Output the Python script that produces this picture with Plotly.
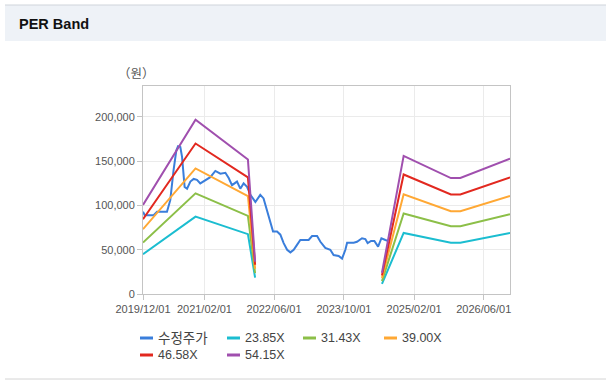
import plotly.graph_objects as go

# ---------------- data ----------------
price_dates = [
    "2019-12-01", "2019-12-13", "2020-02-13", "2020-03-08", "2020-05-16", "2020-06-08",
    "2020-07-01", "2020-07-20", "2020-08-01", "2020-08-17", "2020-08-29", "2020-09-16",
    "2020-10-03", "2020-10-26", "2020-11-18", "2020-12-11", "2021-01-03", "2021-02-07",
    "2021-03-14", "2021-04-18", "2021-05-23", "2021-06-27", "2021-07-20", "2021-08-12",
    "2021-09-16", "2021-10-09", "2021-11-01", "2021-11-25", "2021-12-18", "2022-01-22",
    "2022-02-25", "2022-03-20", "2022-04-13", "2022-05-06", "2022-05-25", "2022-06-22",
    "2022-07-15", "2022-08-07", "2022-08-31", "2022-09-23", "2022-10-16", "2022-11-08",
    "2022-12-01", "2023-01-28", "2023-02-21", "2023-03-28", "2023-04-20", "2023-05-24",
    "2023-06-28", "2023-07-21", "2023-08-25", "2023-09-18", "2023-10-11", "2023-10-23",
    "2023-12-08", "2023-12-31", "2024-02-04", "2024-02-27", "2024-03-14", "2024-04-07",
    "2024-04-30", "2024-05-26", "2024-06-18", "2024-07-16", "2024-08-01",
]
price_values = [
    93000, 89000, 89000, 93000, 93000, 106000,
    140000, 162000, 167000, 166000, 155000, 121000,
    119000, 127000, 130000, 129000, 125000, 129000,
    132000, 139000, 136000, 137000, 131000, 123000,
    127000, 119000, 125000, 121000, 112000, 104000,
    112000, 108000, 95000, 80000, 70500, 70500,
    67000, 57500, 50000, 47000, 50000, 55500,
    61000, 61000, 65500, 65500, 59000, 52000,
    50000, 44000, 43000, 40000, 50000, 58000,
    58000, 59000, 63000, 62000, 57500, 60000,
    60000, 53500, 63000, 61000, 60000,
]

band_dates = [
    "2019-12-01", "2020-12-01", "2021-12-01", "2022-01-20",
    "2023-03-01",
    "2024-06-22", "2024-11-20", "2025-10-15", "2025-12-20", "2026-12-01",
]
band_23_85 = [45000, 87400, 67600, 18500, None, 11500, 69000, 58000, 58000, 69000]
band_31_43 = [58100, 113700, 88200, 23500, None, 14500, 91000, 76500, 76500, 90000]
band_39_00 = [73200, 141900, 110700, 28500, None, 18000, 112700, 93500, 93500, 110700]
band_46_58 = [84500, 170000, 131800, 33000, None, 21000, 135000, 112500, 112500, 131800]
band_54_15 = [100600, 197000, 152000, 36500, None, 24000, 156000, 131000, 131000, 153000]

series_names = ["수정주가", "23.85X", "31.43X", "39.00X", "46.58X", "54.15X"]
series_colors = ["#3a7edb", "#1bbdd0", "#8cbf48", "#ffa834", "#e2281f", "#a04fae"]

x_tick_vals = ["2019-12-01", "2021-02-01", "2022-06-01", "2023-10-01", "2025-02-01", "2026-06-01"]
x_tick_text = ["2019/12/01", "2021/02/01", "2022/06/01", "2023/10/01", "2025/02/01", "2026/06/01"]
y_tick_vals = [0, 50000, 100000, 150000, 200000]

# ---------------- layout geometry (pixels) ----------------
W, H = 606, 385
PL, PR, PT, PB = 143, 96, 86, 91
PW = W - PL - PR
PH = H - PT - PB


def px(x):
    return (x - PL) / PW


def py(y):
    return (H - PB - y) / PH


fig = go.Figure()

fig.add_trace(go.Scatter(x=price_dates, y=price_values, mode="lines", name=series_names[0],
                         line=dict(color=series_colors[0], width=2)))
for name, color, vals in zip(series_names[1:], series_colors[1:],
                             [band_23_85, band_31_43, band_39_00, band_46_58, band_54_15]):
    fig.add_trace(go.Scatter(x=band_dates, y=vals, mode="lines", name=name,
                             connectgaps=False, line=dict(color=color, width=2)))

shapes = [
    # header band
    dict(type="rect", xref="paper", yref="paper", x0=px(5), x1=px(W + 2), y0=py(41), y1=py(5),
         fillcolor="#eef2f7", line=dict(width=0), layer="below"),
    dict(type="line", xref="paper", yref="paper", x0=px(5), x1=px(W + 2), y0=py(5), y1=py(5),
         line=dict(color="#cfd4db", width=1)),
    dict(type="line", xref="paper", yref="paper", x0=px(5), x1=px(W + 2), y0=py(379), y1=py(379),
         line=dict(color="#d4d4d4", width=1)),
]

annotations = [
    dict(text="<b>PER Band</b>", xref="paper", yref="paper", x=px(17), y=py(24),
         xanchor="left", yanchor="middle", showarrow=False,
         font=dict(size=14.5, color="#111111", family="Liberation Sans, Noto Sans CJK KR")),
    dict(text="（원）", xref="paper", yref="paper", x=px(136), y=py(72),
         xanchor="center", yanchor="middle", showarrow=False,
         font=dict(size=12.5, color="#555555", family="Noto Sans CJK KR")),
]

# custom legend (positions in pixels)
legend_pos = [(140, 338), (227, 338), (303, 338), (384, 338), (140, 355), (227, 355)]
for name, color, (lx, ly) in zip(series_names, series_colors, legend_pos):
    shapes.append(dict(type="line", xref="paper", yref="paper",
                       x0=px(lx), x1=px(lx + 13), y0=py(ly), y1=py(ly),
                       line=dict(color=color, width=3)))
    annotations.append(dict(text=name, xref="paper", yref="paper", x=px(lx + 16), y=py(ly),
                            xanchor="left", yanchor="middle", showarrow=False,
                            font=dict(size=13.5 if name == "수정주가" else 12.5, color="#444444",
                                      family="Liberation Sans, Noto Sans CJK KR")))

fig.update_layout(
    width=W, height=H,
    margin=dict(l=PL, r=PR, t=PT, b=PB, pad=0),
    paper_bgcolor="#ffffff", plot_bgcolor="#ffffff",
    showlegend=False,
    shapes=shapes, annotations=annotations,
    font=dict(family="Liberation Sans, Noto Sans CJK KR", size=11, color="#555555"),
)
fig.update_xaxes(type="date", range=["2019-12-01", "2026-12-01"],
                 tickvals=x_tick_vals, ticktext=x_tick_text,
                 showgrid=True, gridcolor="#ebebeb", gridwidth=1,
                 showline=True, linecolor="#c4c4c4", linewidth=1, mirror=True,
                 ticks="outside", ticklen=5, tickcolor="#c4c4c4",
                 tickfont=dict(size=11, color="#555555"), zeroline=False)
fig.update_yaxes(range=[0, 235000], tickvals=y_tick_vals, tickformat=",d",
                 showgrid=True, gridcolor="#ebebeb", gridwidth=1,
                 showline=True, linecolor="#c4c4c4", linewidth=1, mirror=True,
                 ticks="outside", ticklen=5, tickcolor="#c4c4c4",
                 tickfont=dict(size=11, color="#555555"), zeroline=False)

fig.write_html("out.html", config={"displayModeBar": False},
               post_script="document.body.style.margin='0';")
